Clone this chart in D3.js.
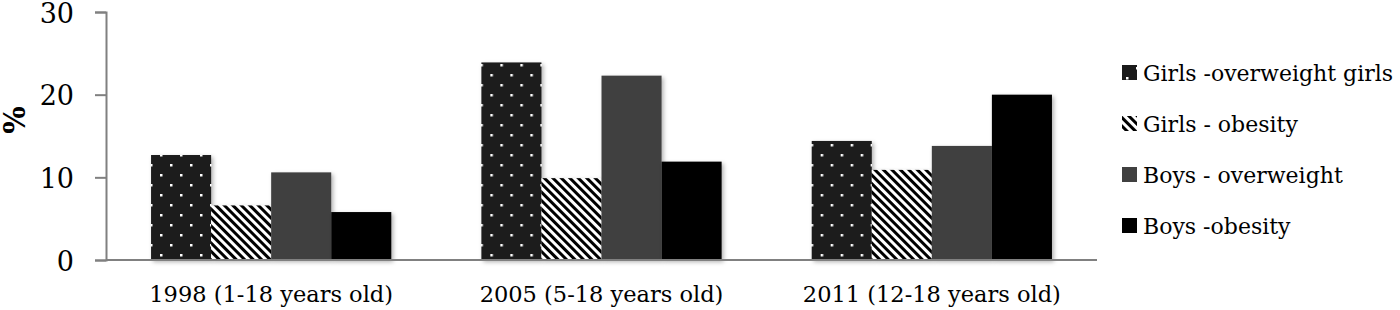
<!DOCTYPE html>
<html>
<head>
<meta charset="utf-8">
<script src="https://cdn.jsdelivr.net/npm/d3@7"></script>
<style>
  body { margin: 0; background: #fff; }
  text { font-family: "DejaVu Serif", serif; }
</style>
</head>
<body>
<div id="chart"></div>
<script>
const categories = ["1998 (1-18 years old)", "2005 (5-18 years old)", "2011 (12-18 years old)"];
const seriesNames = ["Girls -overweight girls", "Girls - obesity", "Boys - overweight", "Boys -obesity"];
const girlsOverweight = [12.7, 23.9, 14.4];
const girlsObesity = [6.6, 9.9, 10.9];
const boysOverweight = [10.6, 22.3, 13.8];
const boysObesity = [5.8, 11.9, 20.0];
const yTicks = [0, 10, 20, 30];

const series = [girlsOverweight, girlsObesity, boysOverweight, boysObesity];
const fills = ["url(#dots)", "url(#stripes)", "#404040", "#000"];

let WIDTH = 1400, HEIGHT = 310;

let svg = d3.select("#chart").append("svg")
    .attr("width", WIDTH)
    .attr("height", HEIGHT);

let defs = svg.append("defs");

let dots = defs.append("pattern")
    .attr("id", "dots")
    .attr("patternUnits", "userSpaceOnUse")
    .attr("width", 20).attr("height", 20);
dots.append("rect").attr("width", 20).attr("height", 20).attr("fill", "#1a1a1a");
dots.append("rect").attr("x", 4).attr("y", 4).attr("width", 2.5).attr("height", 2.5).attr("fill", "#fff");
dots.append("rect").attr("x", 14).attr("y", 14).attr("width", 2.5).attr("height", 2.5).attr("fill", "#fff");

let stripes = defs.append("pattern")
    .attr("id", "stripes")
    .attr("patternUnits", "userSpaceOnUse")
    .attr("width", 6).attr("height", 6)
    .attr("patternTransform", "rotate(45)");
stripes.append("rect").attr("width", 6).attr("height", 6).attr("fill", "#fff");
stripes.append("rect").attr("width", 6).attr("height", 3).attr("fill", "#000");

let shadow = defs.append("filter").attr("id", "shadow")
    .attr("x", "-10%").attr("y", "-10%").attr("width", "130%").attr("height", "130%");
shadow.append("feDropShadow")
    .attr("dx", 2).attr("dy", 2).attr("stdDeviation", 2)
    .attr("flood-color", "#000").attr("flood-opacity", 0.3);

const plotLeft = 106, plotRight = 1097, plotTop = 12, plotBottom = 260;

let x0 = d3.scaleBand().domain(categories).range([plotLeft, plotRight]).paddingInner(0).paddingOuter(0);
let x1 = d3.scaleBand().domain(d3.range(4)).range([0, x0.bandwidth()]).paddingOuter(0.75).paddingInner(0);
let y = d3.scaleLinear().domain([0, 30]).range([plotBottom, plotTop]);

// bars
let groups = svg.append("g").selectAll("g")
    .data(categories)
    .join("g")
    .attr("transform", d => `translate(${x0(d)},0)`);

groups.selectAll("rect")
    .data((d, i) => series.map((s, j) => ({ j: j, v: s[i] })))
    .join("rect")
    .attr("x", d => x1(d.j))
    .attr("width", x1.bandwidth())
    .attr("y", d => y(d.v))
    .attr("height", d => y(0) - y(d.v))
    .attr("fill", d => fills[d.j])
    .attr("filter", "url(#shadow)");

// y axis
let yAxis = svg.append("g")
    .attr("transform", `translate(${plotLeft},0)`)
    .call(d3.axisLeft(y).tickValues(yTicks).tickSize(11).tickPadding(21));
yAxis.select(".domain").attr("stroke", "#808080").attr("stroke-width", 2);
yAxis.selectAll(".tick line").attr("stroke", "#808080").attr("stroke-width", 2);
yAxis.selectAll(".tick text")
    .attr("fill", "#000")
    .attr("dy", "0.38em")
    .style("font-size", "27px")
    .style("font-family", "'DejaVu Serif', serif");

// x axis
let xAxis = svg.append("g")
    .attr("transform", `translate(0,${plotBottom})`)
    .call(d3.axisBottom(x0).tickSize(0).tickPadding(26));
xAxis.select(".domain").attr("stroke", "#808080").attr("stroke-width", 2)
    .attr("d", `M${plotLeft},0H${plotRight}`);
xAxis.selectAll(".tick text")
    .attr("fill", "#000")
    .style("font-size", "22.5px")
    .style("font-family", "'DejaVu Serif', serif");

// y label
svg.append("text")
    .attr("transform", "translate(25,120) rotate(-90)")
    .attr("text-anchor", "middle")
    .style("font-size", "29px")
    .style("font-weight", "bold")
    .text("%");

// legend
let legend = svg.append("g").selectAll("g")
    .data(seriesNames)
    .join("g")
    .attr("transform", (d, i) => `translate(1122,${73 + i * 51})`);

legend.append("rect")
    .attr("x", 0).attr("y", -8)
    .attr("width", 15).attr("height", 15)
    .attr("fill", (d, i) => fills[i]);

legend.append("text")
    .attr("x", 21)
    .attr("dy", "0.35em")
    .style("font-size", "22px")
    .text(d => d);
</script>
</body>
</html>
